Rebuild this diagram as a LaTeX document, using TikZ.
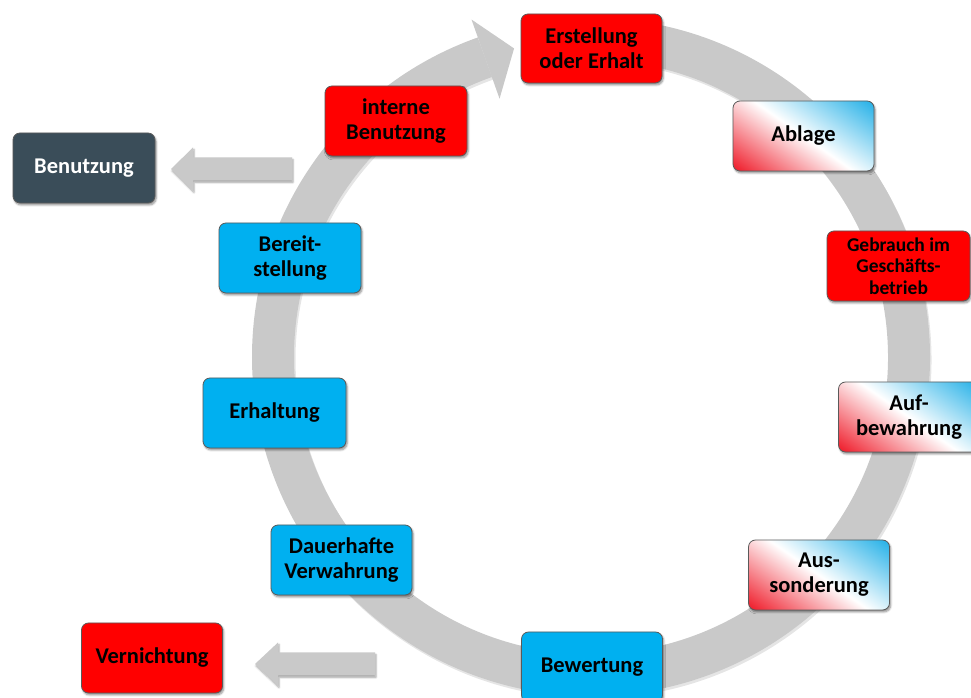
\documentclass[tikz,border=0pt]{standalone}
\usepackage{fontspec}
\setmainfont{Carlito}
\usetikzlibrary{shadows.blur}
\definecolor{ringgray}{HTML}{C9C9C9}
\definecolor{boxred}{HTML}{FF0000}
\definecolor{boxblue}{HTML}{00B0F0}
\definecolor{boxslate}{HTML}{3A4D59}
\definecolor{gradred}{HTML}{EE0F1E}
\definecolor{gradblue}{HTML}{1BADE6}
\definecolor{boxborder}{HTML}{5A5A5A}
\pgfdeclareverticalshading{redwhiteblue}{100bp}{color(0bp)=(gradred); color(14bp)=(gradred); color(50bp)=(white); color(86bp)=(gradblue); color(100bp)=(gradblue)}
\tikzset{
  card/.style={rectangle, rounded corners=7pt, draw=boxborder, line width=0.8pt,
    minimum width=141pt, minimum height=70pt, inner sep=0pt, align=center,
    font=\fontsize{22.5}{25}\selectfont\bfseries,
    blur shadow={shadow xshift=1.2pt, shadow yshift=-2pt, shadow blur steps=6, shadow opacity=45}},
  redcard/.style={card, fill=boxred},
  bluecard/.style={card, fill=boxblue},
  slatecard/.style={card, fill=boxslate, text=white},
  gradcard/.style={card, shading=redwhiteblue, shading angle=-35},
  grayarrow/.style={fill=ringgray, draw=none,
    blur shadow={shadow xshift=1pt, shadow yshift=-2pt, shadow blur steps=5, shadow opacity=35}},
}
\begin{document}
\begin{tikzpicture}[x=1pt,y=1pt]
\useasboundingbox (0,0) rectangle (971,698);
\clip (0,0) rectangle (971,698);
\coordinate (c) at (591,341);
% ring shadow
\draw[line width=42pt, black, opacity=0.10] ([shift={(1.5,-2.5)}]c) ++(95:318) arc[start angle=95, end angle=-250.5, radius=318];
% ring
\draw[line width=42pt, ringgray] (c) ++(95:318) arc[start angle=95, end angle=-250.5, radius=318];
% arrow head of the ring
\fill[ringgray] ([shift={(109.5:274)}]c) -- ([shift={(109.5:358)}]c) -- ([shift={(104:318)}]c) -- cycle;

% side arrows
\coordinate (benA) at (171,529);
\fill[grayarrow] (benA) -- ++(22,21.5) -- ++(0,-10) -- ++(99,0) -- ++(0,-23) -- ++(-99,0) -- ++(0,-10) -- cycle;
\coordinate (verA) at (255,34);
\fill[grayarrow] (verA) -- ++(23,21.5) -- ++(0,-10) -- ++(97,0) -- ++(0,-23) -- ++(-97,0) -- ++(0,-10) -- cycle;

% boxes
\node[redcard, minimum height=69pt] (erst) at (591.5,649.5) {Erstellung\\oder Erhalt};
\node[redcard, minimum width=142pt] (intern) at (396,577) {interne\\Benutzung};
\node[gradcard] (ablage) at (803.5,562) {Ablage};
\node[redcard, minimum width=143pt, font=\fontsize{19.5}{21.7}\selectfont\bfseries] (gebrauch) at (898.5,432) {Gebrauch im\\Geschäfts-\\betrieb};
\node[gradcard] (aufb) at (909,281) {Auf-\\bewahrung};
\node[gradcard] (aussond) at (819,123) {Aus-\\sonderung};
\node[bluecard] (bewert) at (592,31) {Bewertung};
\node[bluecard] (dauer) at (341.5,138) {Dauerhafte\\Verwahrung};
\node[bluecard, minimum width=143pt] (erhalt) at (274.5,285) {Erhaltung};
\node[bluecard, minimum width=142pt] (bereit) at (290,440) {Bereit-\\stellung};
\node[slatecard, minimum width=142pt] (benutz) at (84,530) {Benutzung};
\node[redcard] (vernicht) at (152,40) {Vernichtung};
\end{tikzpicture}
\end{document}
